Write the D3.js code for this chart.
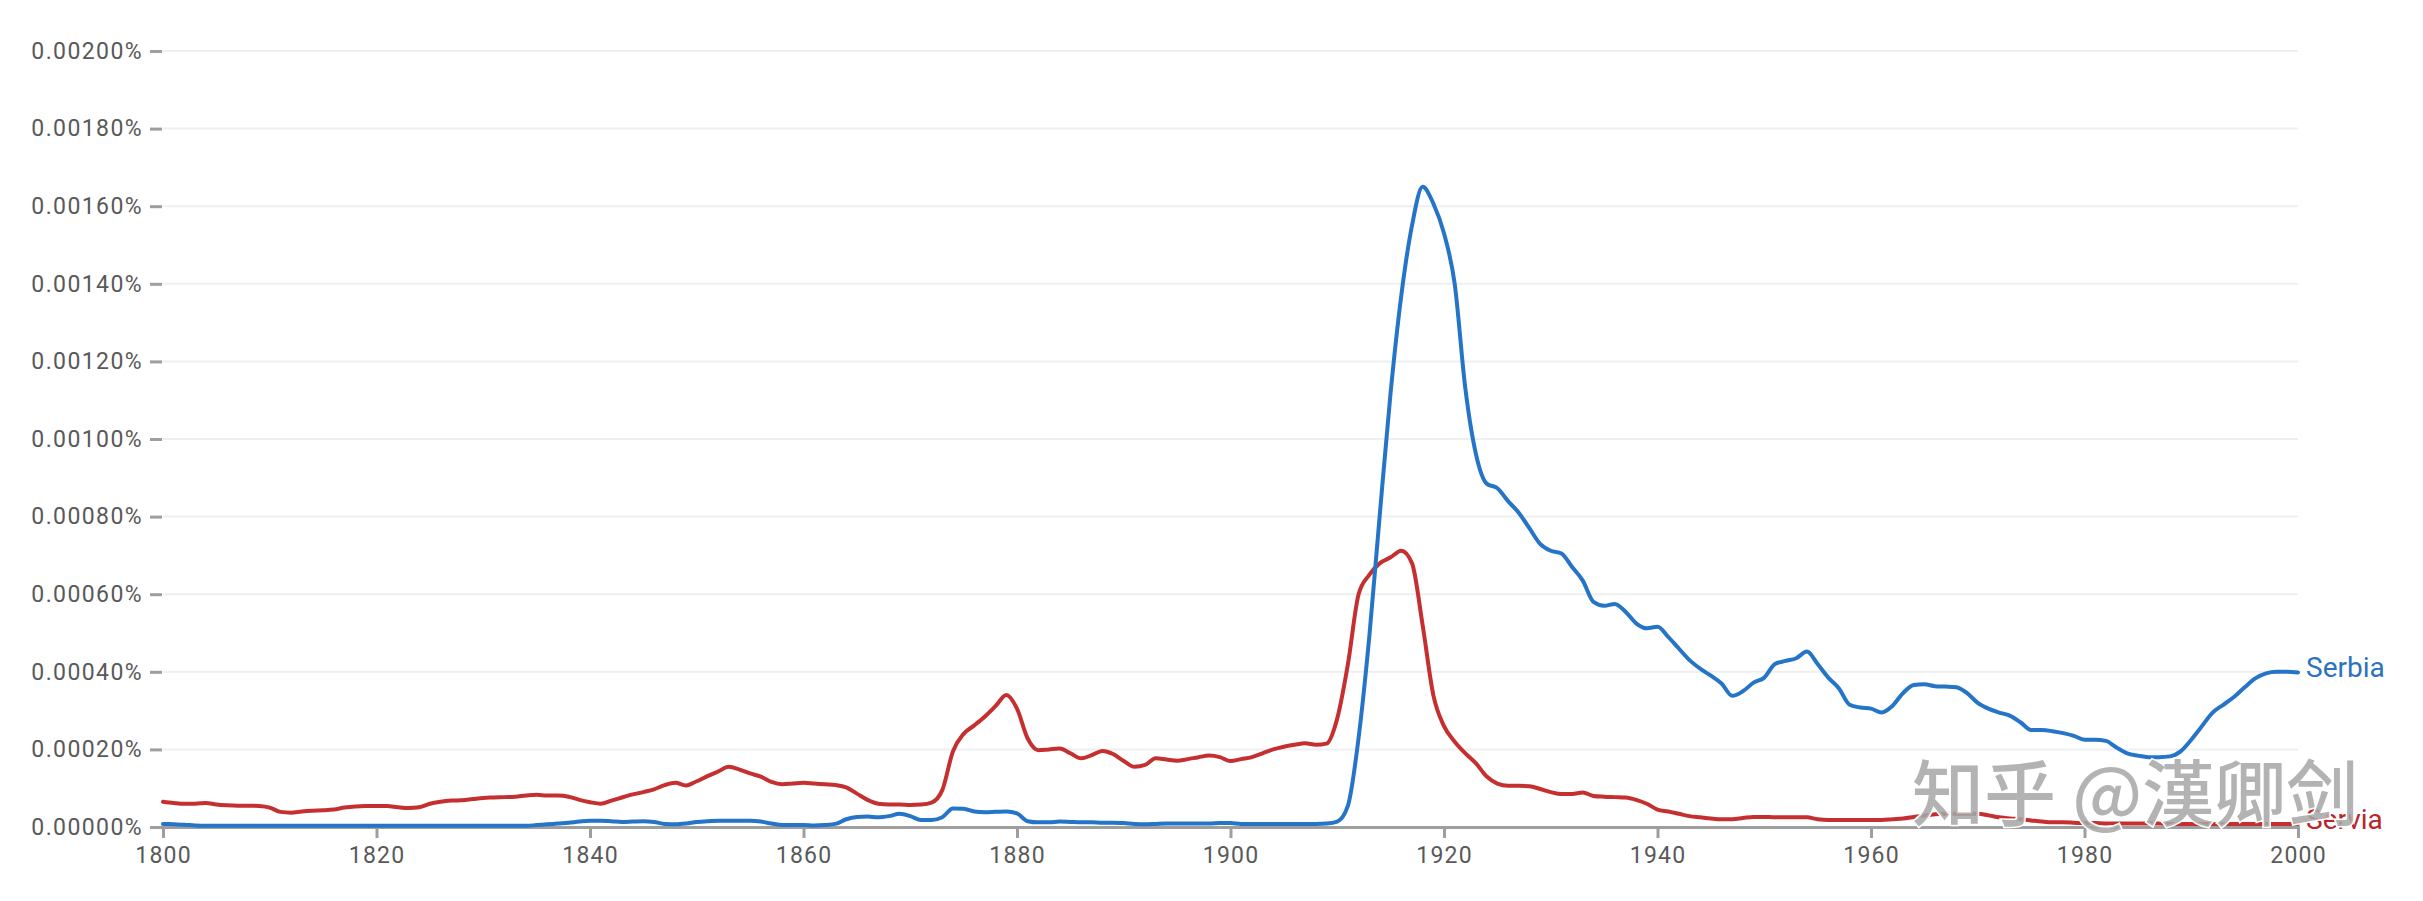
<!DOCTYPE html>
<html>
<head>
<meta charset="utf-8">
<script src="https://cdn.jsdelivr.net/npm/d3@7"></script>
<style>
  html, body { margin: 0; padding: 0; background: #ffffff; }
  svg { display: block; }
  .tick text { font-family: Roboto, "Noto Sans", sans-serif; }
</style>
</head>
<body>
<div id="chart"></div>
<script>
// ---- Data (values in units of 0.000001 %) ----
const startYear = 1800;
const endYear = 2000;
const years = d3.range(startYear, endYear + 1);

const serbia = [
  8, 7, 6, 4, 3, 3, 3, 3, 3, 3,
  3, 3, 3, 3, 3, 3, 3, 3, 3, 3,
  3, 3, 3, 3, 3, 3, 3, 3, 3, 3,
  3, 3, 3, 3, 3, 5, 7, 9, 11, 14,
  16, 16, 15, 13, 14, 15, 13, 8, 7, 9,
  13, 15, 16, 16, 16, 16, 14, 9, 5, 5,
  5, 4, 5, 8, 20, 26, 27, 25, 28, 34,
  28, 18, 18, 25, 48, 47, 40, 38, 39, 40,
  35, 15, 12, 12, 14, 13, 12, 12, 11, 11,
  10, 8, 7, 8, 9, 9, 9, 9, 9, 10,
  10, 8, 8, 8, 8, 8, 8, 8, 8, 9,
  14, 55, 230, 490, 810, 1120, 1370, 1550, 1650, 1607,
  1530, 1400, 1130, 960, 885, 873, 840, 810, 770, 730,
  712, 705, 670, 635, 580, 570, 575, 555, 525, 512,
  516, 490, 460, 430, 408, 390, 370, 338, 350, 372,
  385, 420, 428, 435, 452, 420, 385, 357, 315, 308,
  305, 295, 312, 345, 366, 368, 363, 362, 360, 345,
  320, 305, 295, 287, 270, 250, 250, 247, 242, 235,
  225, 225, 222, 205, 190, 184, 180, 180, 182, 195,
  225, 260, 295, 315, 335, 360, 383, 396, 400, 400,
  398
];

const servia = [
  65, 62, 60, 60, 62, 58, 56, 55, 55, 54,
  50, 39, 37, 40, 42, 43, 45, 50, 53, 54,
  54, 54, 51, 49, 51, 60, 65, 68, 69, 72,
  75, 76, 77, 78, 81, 83, 81, 81, 78, 70,
  64, 60, 68, 76, 84, 90, 97, 108, 114, 107,
  118, 131, 143, 155, 148, 138, 130, 116, 110, 112,
  114, 112, 110, 108, 102, 86, 70, 60, 58, 58,
  57, 58, 63, 95, 195, 240, 262, 285, 312, 340,
  305, 228, 198, 200, 202, 190, 177, 185, 196, 188,
  170, 155, 160, 177, 174, 171, 175, 180, 184, 180,
  170, 175, 180, 190, 200, 207, 212, 216, 212, 215,
  280, 420, 600, 650, 680, 695, 712, 680, 520, 340,
  260, 220, 190, 164, 130, 112, 106, 106, 105, 98,
  90, 85, 85, 89, 80, 78, 77, 76, 70, 60,
  45, 40, 34, 28, 25, 22, 20, 20, 23, 26,
  26, 25, 25, 25, 25, 20, 18, 18, 18, 18,
  18, 18, 20, 22, 26, 30, 33, 34, 34, 34,
  34, 30, 25, 22, 20, 17, 14, 12, 12, 11,
  10, 10, 9, 9, 9, 9, 9, 9, 8, 8,
  8, 8, 8, 8, 8, 8, 8, 8, 8, 8,
  8
];

const seriesNames = ["Serbia", "Servia"];
const seriesColors = ["#2574c8", "#c62f2f"];
const labelColors = ["#2b72c2", "#b9252a"];
const yTicks = d3.range(0, 2001, 200);           // 0 ... 0.00200 %
const xTicks = d3.range(1800, 2001, 20);
const watermarkText = "知乎 @漢卿剑";

// ---- Layout ----
const W = 2423, H = 901;
const svg = d3.select("#chart").append("svg")
  .attr("width", W).attr("height", H);

const x = d3.scaleLinear().domain([startYear, endYear]).range([163, 2298]);
const y = d3.scaleLinear().domain([0, 2000]).range([827, 51]);

const fmt = d => (d * 1e-6).toFixed(5) + "%";

// Grid lines
svg.append("g")
  .selectAll("line")
  .data(yTicks.filter(d => d > 0))
  .join("line")
  .attr("x1", x(startYear)).attr("x2", x(endYear))
  .attr("y1", d => y(d)).attr("y2", d => y(d))
  .attr("stroke", "#efefef").attr("stroke-width", 2);

// Y axis (ticks only)
const yAxis = svg.append("g")
  .attr("transform", `translate(${x(startYear) - 1},0)`)
  .call(d3.axisLeft(y).tickValues(yTicks).tickFormat(fmt).tickSize(12).tickPadding(7));
yAxis.select(".domain").remove();
yAxis.selectAll(".tick line").attr("stroke", "#9e9e9e").attr("stroke-width", 3);
yAxis.selectAll(".tick text")
  .attr("fill", "#595959")
  .style("font-size", "23px")
  .style("letter-spacing", "1.4px");

// X axis
const xAxis = svg.append("g")
  .attr("transform", `translate(0,${y(0)})`)
  .call(d3.axisBottom(x).tickValues(xTicks).tickFormat(d3.format("d")).tickSize(11).tickPadding(9));
xAxis.select(".domain").attr("stroke", "#9e9e9e").attr("stroke-width", 3);
xAxis.selectAll(".tick line").attr("stroke", "#9e9e9e").attr("stroke-width", 3);
xAxis.selectAll(".tick text")
  .attr("fill", "#595959")
  .style("font-size", "23px")
  .style("letter-spacing", "1.2px");

// Lines
const line = d3.line()
  .x((d, i) => x(years[i]))
  .y(d => y(d))
  .curve(d3.curveMonotoneX);

const allSeries = [servia, serbia];
const order = [1, 0];
allSeries.forEach((vals, k) => {
  const idx = order[k];
  svg.append("path")
    .datum(vals)
    .attr("fill", "none")
    .attr("stroke", seriesColors[idx])
    .attr("stroke-width", 4)
    .attr("stroke-linejoin", "round")
    .attr("stroke-linecap", "round")
    .attr("d", line);
});

// Series labels
[serbia, servia].forEach((vals, i) => {
  svg.append("text")
    .attr("x", x(endYear) + 8)
    .attr("y", y(vals[vals.length - 1]) - 5)
    .attr("dy", "0.35em")
    .attr("fill", labelColors[i])
    .style("font-family", "Roboto, 'Noto Sans', sans-serif")
    .style("font-size", "28px")
    .text(seriesNames[i]);
});

// Watermark
svg.append("text")
  .attr("x", 1912)
  .attr("y", 820)
  .style("font-family", "'Noto Sans CJK SC', 'Noto Sans CJK TC', sans-serif")
  .style("font-size", "72px")
  .style("font-weight", "500")
  .attr("fill", "#a6a6a6")
  .attr("fill-opacity", 0.85)
  .attr("stroke", "#ffffff")
  .attr("stroke-width", 3)
  .style("paint-order", "stroke")
  .text(watermarkText);
</script>
</body>
</html>
